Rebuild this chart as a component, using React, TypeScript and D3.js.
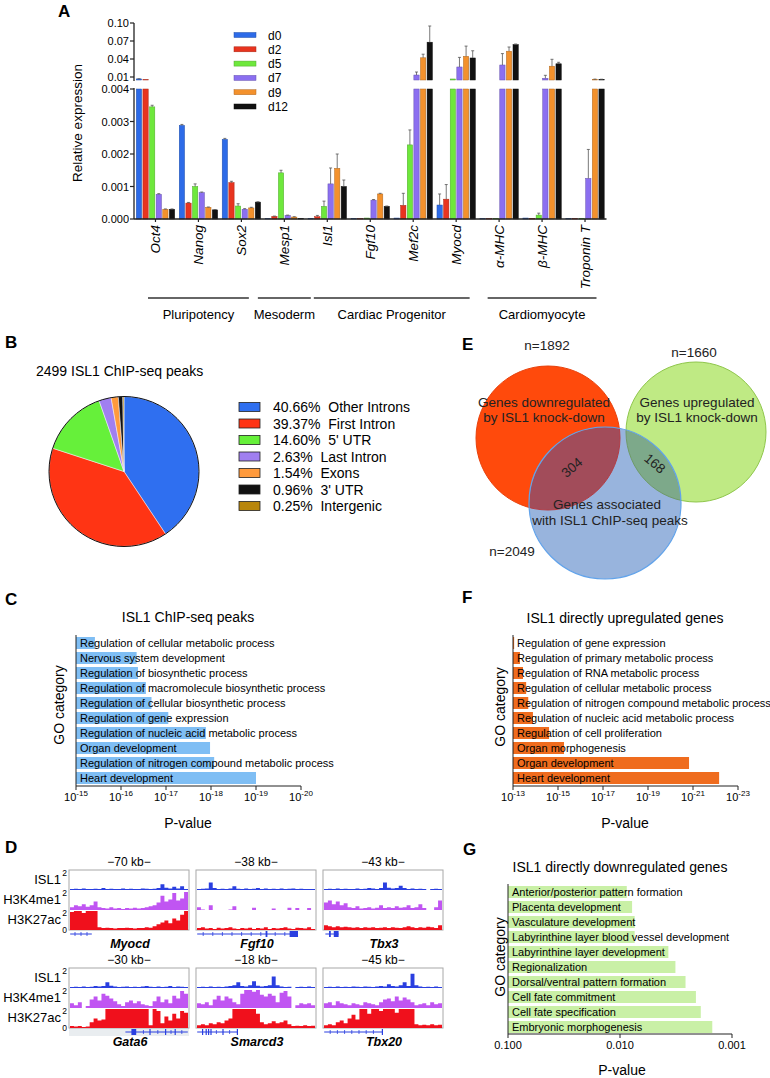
import React from 'react';
import * as d3 from 'd3';

const FONT = '"Liberation Sans", Arial, Helvetica, sans-serif';

// ---------------- Panel A data ----------------
const genes = ['Oct4', 'Nanog', 'Sox2', 'Mesp1', 'Isl1', 'Fgf10', 'Mef2c', 'Myocd', 'α-MHC', 'β-MHC', 'Troponin T'];
const days = ['d0', 'd2', 'd5', 'd7', 'd9', 'd12'];
const dayColors = ['#2d6be8', '#e8341f', '#6ee83c', '#8b6ff0', '#f3912c', '#111111'];
const exprD0 = [0.0068, 0.00288, 0.00245, 0.00001, 0.00002, 0.00001, 0.00003, 0.00043, 0.00001, 0.00003, 0.00001];
const exprD2 = [0.0055, 0.00049, 0.00112, 0.00008, 0.00007, 0.00001, 0.00042, 0.00061, 0.00001, 0.00002, 0.00001];
const exprD5 = [0.00345, 0.001, 0.0004, 0.00142, 0.00039, 0.00003, 0.00228, 0.0067, 0.00002, 0.00012, 0.00002];
const exprD7 = [0.00076, 0.00081, 0.0003, 0.00011, 0.00108, 0.00058, 0.0133, 0.0267, 0.03, 0.0078, 0.00125];
const exprD9 = [0.0003, 0.00036, 0.00034, 0.00006, 0.00156, 0.00077, 0.042, 0.0445, 0.053, 0.028, 0.006];
const exprD12 = [0.0003, 0.00028, 0.00052, 0.00002, 0.001, 0.00039, 0.068, 0.0417, 0.064, 0.032, 0.006];
const errD0 = [0.0003, 0.00003, 0.00003, 0, 0, 0, 0, 0.00034, 0, 0, 0];
const errD2 = [0, 0.00002, 0.00004, 0.00001, 0.00004, 0, 0.00037, 0.00045, 0, 0, 0];
const errD5 = [0.00005, 0.00008, 0.00007, 0.00008, 0.00016, 0, 0.00046, 0, 0, 0.00006, 0];
const errD7 = [0.00002, 0.00002, 0.00002, 0.00001, 0.00049, 0.00002, 0.005, 0.016, 0.019, 0.005, 0.00089];
const errD9 = [0.00001, 0.00001, 0.00002, 0.00001, 0.00044, 0.00002, 0.006, 0.017, 0.007, 0.0115, 0.0005];
const errD12 = [0.00001, 0.00001, 0.00001, 0, 0.0002, 0.00001, 0.027, 0.012, 0.001, 0.0025, 0.0003];
const lowerTicks = [0, 0.001, 0.002, 0.003, 0.004];
const upperTicks = [0.01, 0.04, 0.07, 0.1];
const geneGroups = [
  { label: 'Pluripotency', first: 'Oct4', last: 'Sox2', inset: 14 },
  { label: 'Mesoderm', first: 'Mesp1', last: 'Mesp1', inset: -5 },
  { label: 'Cardiac Progenitor', first: 'Isl1', last: 'Myocd', inset: 8 },
  { label: 'Cardiomyocyte', first: 'α-MHC', last: 'Troponin T', inset: 10 },
];

// ---------------- Panel B data ----------------
const pieLabels = ['Other Introns', 'First Intron', "5' UTR", 'Last Intron', 'Exons', "3' UTR", 'Intergenic'];
const piePercents = [40.66, 39.37, 14.6, 2.63, 1.54, 0.96, 0.25];
const pieColors = ['#2f6ff0', '#ff3414', '#66f03a', '#a07ff0', '#ff9a3c', '#111111', '#b8860b'];

// ---------------- Panel C data ----------------
const goCCategories = [
  'Regulation of cellular metabolic process', 'Nervous system development', 'Regulation of biosynthetic process',
  'Regulation of macromolecule biosynthetic process', 'Regulation of cellular biosynthetic process',
  'Regulation of gene expression', 'Regulation of nucleic acid metabolic process', 'Organ development',
  'Regulation of nitrogen compound metabolic process', 'Heart development',
];
const goCPValues = [3.8e-16, 4.5e-17, 4.2e-17, 2.8e-17, 2.1e-17, 8.9e-18, 1.3e-18, 1.05e-18, 8.5e-19, 1.0e-19];
const goCTicks = [1e-15, 1e-16, 1e-17, 1e-18, 1e-19, 1e-20];

// ---------------- Panel F data ----------------
const goFCategories = [
  'Regulation of gene expression', 'Regulation of primary metabolic process', 'Regulation of RNA metabolic process',
  'Regulation of cellular metabolic process', 'Regulation of nitrogen compound metabolic process',
  'Regulation of nucleic acid metabolic process', 'Regulation of cell proliferation', 'Organ morphogenesis',
  'Organ development', 'Heart development',
];
const goFPValues = [8.9e-14, 4.9e-14, 3.6e-14, 2.6e-14, 2.1e-14, 1.3e-14, 2.5e-15, 5.4e-16, 1.5e-21, 6.9e-23];
const goFTicks = [1e-13, 1e-15, 1e-17, 1e-19, 1e-21, 1e-23];

// ---------------- Panel G data ----------------
const goGCategories = [
  'Anterior/posterior pattern formation', 'Placenta development', 'Vasculature development',
  'Labyrinthine layer blood vessel development', 'Labyrinthine layer development', 'Regionalization',
  'Dorsal/ventral pattern formation', 'Cell fate commitment', 'Cell fate specification', 'Embryonic morphogenesis',
];
const goGPValues = [0.0087, 0.0078, 0.0074, 0.0074, 0.0037, 0.0032, 0.0026, 0.0021, 0.0019, 0.0015];
const goGTicks = [0.1, 0.01, 0.001];
const goGTickLabels = ['0.100', '0.010', '0.001'];

// ---------------- Panel E data ----------------
const vennNames = [['Genes downregulated', 'by ISL1 knock-down'], ['Genes upregulated', 'by ISL1 knock-down'], ['Genes associated', 'with ISL1 ChIP-seq peaks']];
const vennCounts = [1892, 1660, 2049];
const vennOverlaps = [304, 168];

// ---------------- Panel D data ----------------
const trackNames = ['ISL1', 'H3K4me1', 'H3K27ac'];
const trackColors = ['#2a3fe0', '#c055f2', '#f0101c'];
const topLoci = ['Myocd', 'Fgf10', 'Tbx3'];
const topScales = ['70 kb', '38 kb', '43 kb'];
const bottomLoci = ['Gata6', 'Smarcd3', 'Tbx20'];
const bottomScales = ['30 kb', '18 kb', '45 kb'];

const myocdISL1 = [0.1, 0.12, 0.1, 0.15, 0.1, 0.1, 0.12, 0.1, 0.2, 0.1, 0.12, 0.1, 0.1, 0.15, 0.1, 0.12, 0.1, 0.1, 0.15, 0.12, 0.1, 0.12, 0.2, 0.6, 0.25, 0.15, 0.35, 0.15, 0.4, 0.1];
const myocdK4 = [0.3, 0.5, 0.4, 0.6, 0.35, 0.5, 0.9, 0.3, 0.2, 0.15, 0.3, 0.15, 0.2, 0.1, 0.2, 0.15, 0.25, 0.15, 0.2, 0.3, 0.4, 0.5, 0.8, 1.5, 0.9, 1.1, 1.8, 1.0, 1.2, 1.9];
const myocdK27 = [1.9, 2, 2, 1.8, 2, 2, 2, 0.3, 0.2, 0.25, 0.2, 0.15, 0.2, 0.2, 0.25, 0.2, 0.15, 0.2, 0.2, 0.3, 0.25, 0.4, 0.6, 0.8, 1.0, 0.7, 1.2, 1.0, 1.6, 2];
const fgf10ISL1 = [0.1, 0.12, 0.15, 0.8, 0.2, 0.1, 0.12, 0.1, 0.15, 0.4, 0.12, 0.1, 0.15, 0.1, 0.12, 0.2, 0.1, 0.15, 0.1, 0.12, 0.1, 0.15, 0.1, 0.12, 0.15, 0.1, 0.12, 0.1, 0.1, 0.1];
const fgf10K4 = [0.3, 0.05, 0, 0.5, 0, 0, 0, 0, 0.05, 0.4, 0, 0, 0, 0, 0.25, 0, 0, 0, 0, 0.15, 0, 0, 0, 0.25, 0, 0.2, 0, 0, 0.2, 0];
const fgf10K27 = [0.2, 0.3, 0.15, 0.2, 0.1, 0.25, 0.15, 0.2, 0.3, 0.15, 0.1, 0.2, 0.15, 0.25, 0.1, 0.2, 0.15, 0.3, 0.1, 0.2, 0.15, 0.2, 0.3, 0.15, 0.1, 0.25, 0.2, 0.15, 0.3, 0.1];
const tbx3ISL1 = [0.1, 0.12, 0.1, 0.15, 0.1, 0.12, 0.1, 0.1, 0.15, 0.1, 0.12, 0.2, 0.15, 0.1, 0.2, 0.8, 0.25, 0.15, 0.2, 0.45, 0.2, 0.1, 0.15, 0.1, 0.12, 0.1, 0, 0.1, 0.12, 0.1];
const tbx3K4 = [0.8, 1.0, 0.6, 0.9, 0.5, 0.7, 0.3, 0.2, 0.4, 0.15, 0.2, 0.3, 0.15, 0.25, 0.5, 0.2, 0.3, 0.2, 0.4, 0.25, 0.3, 0.5, 0.2, 0.3, 0.6, 0.2, 0, 0, 0.3, 1.0];
const tbx3K27 = [0.5, 0.4, 0.3, 0.4, 0.3, 0.35, 0.3, 0.25, 0.3, 0.2, 0.3, 0.25, 0.3, 0.2, 0.25, 0.3, 0.2, 0.3, 0.25, 0.2, 0.3, 0.4, 0.3, 0.2, 0.3, 0.25, 0.35, 0.3, 0.2, 0.5];
const gata6ISL1 = [0.1, 0.12, 0.1, 0.15, 0.1, 0.12, 0.2, 0.15, 0.2, 0.6, 0.25, 0.15, 0.1, 0.12, 0.15, 0.1, 0.12, 0.1, 0.15, 0.2, 0.12, 0.1, 0.15, 0.1, 0.12, 0.2, 0.1, 0.15, 0.12, 0.1];
const gata6K4 = [0.5, 0.3, 0.6, 0, 0.2, 0.9, 1.2, 0.8, 1.5, 1.3, 1.0, 0.7, 0.4, 0.2, 0.6, 0.8, 0.5, 0.7, 0.4, 0.3, 0.2, 0.7, 1.2, 0.6, 0.9, 0.5, 1.3, 1.0, 1.8, 1.5];
const gata6K27 = [0.2, 0.15, 0.2, 0.1, 0.15, 0.6, 1.0, 0.8, 0.9, 2, 2, 2, 2, 2, 2, 2, 2, 2, 2, 2, 0.3, 2, 1.8, 0.5, 1.2, 0.8, 1.5, 1.0, 1.8, 1.6];
const smarcd3ISL1 = [0.1, 0.12, 0.1, 0.15, 0.1, 0.12, 0.1, 0.15, 0.2, 0.3, 0.6, 0.2, 0.15, 0.3, 0.7, 0.25, 0.15, 0.2, 0.3, 1.2, 0.3, 0.15, 0.1, 0.12, 0, 0.1, 0.12, 0.1, 0.15, 0.1];
const smarcd3K4 = [0.5, 0.4, 0.6, 0.3, 0.9, 1.3, 0.8, 1.2, 1.0, 0.6, 0.4, 1.5, 1.9, 1.9, 1.7, 1.9, 1.4, 1.2, 1.5, 1.3, 0.6, 1.6, 1.8, 1.2, 0, 0.3, 0.5, 0.4, 0.5, 0.3];
const smarcd3K27 = [0.3, 0.4, 0.3, 0.5, 0.4, 0.6, 0.5, 0.8, 1.0, 2, 2, 2, 2, 2, 2, 1.5, 0.6, 0.4, 0.5, 0.7, 0.5, 0.6, 0.8, 0.4, 0.2, 0.25, 0.2, 0.3, 0.2, 0.25];
const tbx20ISL1 = [0.1, 0.12, 0.1, 0.15, 0.1, 0.12, 0.1, 0.15, 0.12, 0.1, 0.15, 0.12, 0.1, 0.15, 0.2, 0.15, 0.4, 0.2, 0.15, 0.3, 0.6, 0.2, 1.5, 0.3, 0.15, 0.1, 0.12, 0.1, 0.15, 0.1];
const tbx20K4 = [0.5, 0.6, 0.3, 0.7, 0.5, 0.4, 0.3, 0.5, 0.4, 0.3, 0.6, 0.5, 0.4, 0.3, 0.6, 0.9, 1.0, 0.7, 1.2, 0.8, 1.1, 0.9, 0.6, 0.3, 0.4, 0.5, 0.3, 0.6, 0.4, 0.5];
const tbx20K27 = [0.3, 0.4, 0.3, 0.6, 0.8, 0.5, 1.0, 1.4, 0.9, 2, 2, 1.5, 2, 2, 1.8, 2, 2, 2, 1.6, 2, 2, 2, 2, 0.4, 0.3, 0.35, 0.3, 0.4, 0.3, 0.35];

// gene models: line extent and exon blocks, as fractions of the locus window
const geneModels: Record<string, { line: [number, number]; exons: [number, number][]; marks: number[]; shade?: boolean }> = {
  Myocd: { line: [0.01, 0.19], exons: [], marks: [0.05, 0.1, 0.15] },
  Fgf10: { line: [0.01, 0.85], exons: [[0.58, 0.595], [0.78, 0.85]], marks: [0.06, 0.14, 0.22, 0.3, 0.38, 0.46, 0.54, 0.66, 0.74] },
  Tbx3: { line: [0.02, 0.13], exons: [[0.05, 0.065], [0.09, 0.13]], marks: [] },
  Gata6: { line: [0.47, 0.99], exons: [[0.52, 0.56], [0.67, 0.68], [0.8, 0.81], [0.88, 0.89]], marks: [0.62, 0.74, 0.85, 0.94], shade: true },
  Smarcd3: { line: [0.01, 0.35], exons: [[0.05, 0.06], [0.08, 0.09], [0.1, 0.11], [0.12, 0.13], [0.22, 0.23], [0.34, 0.35]], marks: [0.17, 0.28] },
  Tbx20: { line: [0.01, 0.5], exons: [[0.49, 0.5]], marks: [0.06, 0.12, 0.18, 0.24, 0.3, 0.36, 0.42] },
};
const trackData: Record<string, number[][]> = {
  Myocd: [myocdISL1, myocdK4, myocdK27],
  Fgf10: [fgf10ISL1, fgf10K4, fgf10K27],
  Tbx3: [tbx3ISL1, tbx3K4, tbx3K27],
  Gata6: [gata6ISL1, gata6K4, gata6K27],
  Smarcd3: [smarcd3ISL1, smarcd3K4, smarcd3K27],
  Tbx20: [tbx20ISL1, tbx20K4, tbx20K27],
};

// ---------------- Components ----------------
function PanelLabel({ x, y, t }: { x: number; y: number; t: string }) {
  return <text x={x} y={y} fontSize={17} fontWeight="bold">{t}</text>;
}

function PanelA() {
  const xA = d3.scaleBand<string>().domain(genes).range([134, 606.5]);
  const bw = xA.bandwidth();
  const xDay = d3.scaleBand<string>().domain(days).range([2.3, bw - 2.3]).paddingInner(0.2);
  const yLow = d3.scaleLinear().domain([0, 0.004]).range([219, 89]);
  const yHigh = d3.scaleLinear().domain([0.005, 0.1]).range([80, 23]);
  const series = [exprD0, exprD2, exprD5, exprD7, exprD9, exprD12];
  const errs = [errD0, errD2, errD5, errD7, errD9, errD12];
  const axisX = 134;
  const bars: React.ReactNode[] = [];
  const errorBars: React.ReactNode[] = [];
  series.forEach((vals, di) => {
    const col = dayColors[di];
    const stroke = d3.color(col)!.darker(0.9).toString();
    vals.forEach((v, gi) => {
      const x = xA(genes[gi])! + xDay(days[di])!;
      const w = xDay.bandwidth();
      const top = yLow(Math.min(v, 0.004));
      bars.push(<rect key={`l${di}-${gi}`} x={x} y={top} width={w} height={219 - top} fill={col} stroke={stroke} strokeWidth={0.5} />);
      if (v > 0.005) {
        const t2 = yHigh(v);
        bars.push(<rect key={`u${di}-${gi}`} x={x} y={t2} width={w} height={80 - t2} fill={col} stroke={stroke} strokeWidth={0.5} />);
      }
      const e = errs[di][gi];
      if (e > 0) {
        const cx = x + w / 2;
        let y1: number | null = null, y2: number | null = null;
        if (v + e <= 0.004) { y1 = yLow(v); y2 = yLow(v + e); }
        else if (v > 0.005) { y1 = yHigh(v); y2 = yHigh(v + e); }
        if (y1 !== null && y2 !== null) {
          errorBars.push(
            <g key={`e${di}-${gi}`} stroke="#555" strokeWidth={0.8}>
              <line x1={cx} x2={cx} y1={y1} y2={y2} />
              <line x1={cx - 1.5} x2={cx + 1.5} y1={y2} y2={y2} />
            </g>
          );
        }
      }
    });
  });
  return (
    <g>
      <PanelLabel x={58} y={17} t="A" />
      {bars}
      {errorBars}
      <line x1={axisX} x2={axisX} y1={yHigh(0.1)} y2={81} stroke="#222" strokeWidth={1.3} />
      <line x1={axisX} x2={axisX} y1={88} y2={219} stroke="#222" strokeWidth={1.3} />
      <line x1={axisX} x2={606.5} y1={219} y2={219} stroke="#222" strokeWidth={1.3} />
      {upperTicks.map((t) => (
        <g key={t}>
          <line x1={axisX - 4} x2={axisX} y1={yHigh(t)} y2={yHigh(t)} stroke="#222" strokeWidth={1.2} />
          <text x={axisX - 5} y={yHigh(t) + 4} textAnchor="end" fontSize={11}>{d3.format('.2f')(t)}</text>
        </g>
      ))}
      {lowerTicks.map((t) => (
        <g key={t}>
          <line x1={axisX - 4} x2={axisX} y1={yLow(t)} y2={yLow(t)} stroke="#222" strokeWidth={1.2} />
          <text x={axisX - 5} y={yLow(t) + 4} textAnchor="end" fontSize={11}>{d3.format('.3f')(t)}</text>
        </g>
      ))}
      <text transform="translate(82,123) rotate(-90)" textAnchor="middle" fontSize={13.5}>Relative expression</text>
      {genes.map((g) => {
        const cx = xA(g)! + bw / 2;
        return (
          <g key={g}>
            <line x1={cx} x2={cx} y1={219} y2={222} stroke="#222" strokeWidth={1.2} />
            <text transform={`translate(${cx + 4.8},225) rotate(-90)`} textAnchor="end" fontSize={13.5} fontStyle="italic">{g}</text>
          </g>
        );
      })}
      {geneGroups.map((gr) => {
        const xs = xA(gr.first)! + gr.inset;
        const xe = xA(gr.last)! + bw - gr.inset;
        return (
          <g key={gr.label}>
            <line x1={xs} x2={xe} y1={298} y2={298} stroke="#333" strokeWidth={1.5} />
            <text x={(xs + xe) / 2} y={318.5} textAnchor="middle" fontSize={13}>{gr.label}</text>
          </g>
        );
      })}
      {days.map((d, i) => (
        <g key={d}>
          <rect x={234} y={32.5 + i * 14.3} width={22} height={5} fill={dayColors[i]} stroke={d3.color(dayColors[i])!.darker(0.9).toString()} strokeWidth={0.5} />
          <text x={268} y={39.5 + i * 14.3} fontSize={12}>{d}</text>
        </g>
      ))}
    </g>
  );
}

function PanelB() {
  const cx = 124, cy = 471.5, r = 75;
  const pie = d3.pie<number>().sort(null).value((d) => d)(piePercents);
  const arc = d3.arc<d3.PieArcDatum<number>>().innerRadius(0).outerRadius(r);
  return (
    <g>
      <PanelLabel x={5} y={348} t="B" />
      <text x={36} y={376} fontSize={14}>2499 ISL1 ChIP-seq peaks</text>
      <g transform={`translate(${cx},${cy})`}>
        {pie.map((p, i) => (
          <path key={i} d={arc(p)!} fill={pieColors[i]} stroke="#f4f4ff" strokeWidth={0.5} />
        ))}
        <circle r={r} fill="none" stroke="#111" strokeWidth={1} />
      </g>
      {pieLabels.map((l, i) => (
        <g key={l}>
          <rect x={239} y={402.5 + i * 16.5} width={21} height={9} fill={pieColors[i]} stroke="#222" strokeWidth={0.8} />
          <text x={273} y={412 + i * 16.5} fontSize={14} style={{ whiteSpace: 'pre' }}>{`${piePercents[i].toFixed(2)}%  ${l}`}</text>
        </g>
      ))}
    </g>
  );
}

function GOChart(props: {
  cats: string[]; pvals: number[]; domain: [number, number]; range: [number, number]; ticks: number[];
  tickLabel: (t: number, i: number) => React.ReactNode; color: string; rowY0: number; axisY: number;
  title: string; titleX: number; titleY: number; goX: number; goY: number; pX: number; pY: number;
}) {
  const { cats, pvals, domain, range, ticks, tickLabel, color, rowY0, axisY } = props;
  const x = d3.scaleLog().domain(domain).range(range);
  const y = d3.scaleBand<string>().domain(cats).range([rowY0 - 7.5, rowY0 - 7.5 + 15 * cats.length]).paddingInner(0.2).paddingOuter(0.1);
  return (
    <g>
      <text x={props.titleX} y={props.titleY} textAnchor="middle" fontSize={14}>{props.title}</text>
      {cats.map((c, i) => (
        <g key={c}>
          <rect x={range[0]} y={y(c)!} width={x(pvals[i]) - range[0]} height={y.bandwidth()} fill={color} />
          <text x={range[0] + 4} y={y(c)! + y.bandwidth() / 2 + 4} fontSize={11}>{c}</text>
        </g>
      ))}
      <line x1={range[0]} x2={range[0]} y1={rowY0 - 8} y2={axisY} stroke="#222" strokeWidth={1} />
      <line x1={range[0]} x2={range[1]} y1={axisY} y2={axisY} stroke="#222" strokeWidth={1} />
      {ticks.map((t, i) => (
        <g key={i}>
          <line x1={x(t)} x2={x(t)} y1={axisY} y2={axisY + 4} stroke="#222" strokeWidth={1} />
          <text x={x(t)} y={axisY + 15} textAnchor="middle" fontSize={11}>{tickLabel(t, i)}</text>
        </g>
      ))}
      <text transform={`translate(${props.goX},${props.goY}) rotate(-90)`} textAnchor="middle" fontSize={14}>GO category</text>
      <text x={props.pX} y={props.pY} textAnchor="middle" fontSize={14}>P-value</text>
    </g>
  );
}

const powLabel = (t: number) => (
  <>10<tspan dy={-5} fontSize={8}>{String(Math.round(Math.log10(t)))}</tspan></>
);

function PanelC() {
  return (
    <g>
      <PanelLabel x={5} y={605} t="C" />
      <GOChart cats={goCCategories} pvals={goCPValues} domain={[1e-15, 1e-20]} range={[76, 301]} ticks={goCTicks}
        tickLabel={(t) => powLabel(t)} color="#7fbef4" rowY0={643} axisY={786}
        title="ISL1 ChIP-seq peaks" titleX={188} titleY={622} goX={64} goY={705} pX={188} pY={828} />
    </g>
  );
}

function PanelF() {
  return (
    <g>
      <PanelLabel x={462} y={603} t="F" />
      <GOChart cats={goFCategories} pvals={goFPValues} domain={[1e-13, 1e-23]} range={[513, 738]} ticks={goFTicks}
        tickLabel={(t) => powLabel(t)} color="#ef6c1e" rowY0={643} axisY={786}
        title="ISL1 directly upregulated genes" titleX={625} titleY={623} goX={505} goY={707} pX={625} pY={828} />
    </g>
  );
}

function PanelG() {
  return (
    <g>
      <PanelLabel x={463} y={855} t="G" />
      <GOChart cats={goGCategories} pvals={goGPValues} domain={[0.1, 0.001]} range={[508, 732]} ticks={goGTicks}
        tickLabel={(t, i) => goGTickLabels[i]} color="#c9f0a6" rowY0={892} axisY={1034}
        title="ISL1 directly downregulated genes" titleX={620} titleY={872} goX={505} goY={957} pX={622} pY={1075} />
    </g>
  );
}

function PanelE() {
  const red = { cx: 548, cy: 438, r: 72 };
  const green = { cx: 696, cy: 432, r: 70 };
  const blue = { cx: 605, cy: 503, r: 76 };
  const fs = 13.5;
  return (
    <g>
      <PanelLabel x={462} y={350} t="E" />
      <defs>
        <clipPath id="clipBlue"><circle cx={blue.cx} cy={blue.cy} r={blue.r} /></clipPath>
      </defs>
      <circle cx={red.cx} cy={red.cy} r={red.r} fill="#ff4a0c" stroke="#e8400a" strokeWidth={1} />
      <circle cx={green.cx} cy={green.cy} r={green.r} fill="#bfea84" stroke="#8fc64c" strokeWidth={1} />
      <circle cx={blue.cx} cy={blue.cy} r={blue.r} fill="#98b4dd" />
      <g clipPath="url(#clipBlue)">
        <circle cx={red.cx} cy={red.cy} r={red.r} fill="#a24c5a" stroke="#b23d45" strokeWidth={1} />
        <circle cx={green.cx} cy={green.cy} r={green.r} fill="#7da98a" stroke="#6f9a6a" strokeWidth={1} />
      </g>
      <circle cx={blue.cx} cy={blue.cy} r={blue.r} fill="none" stroke="#62a3ea" strokeWidth={1.2} />
      <g fontSize={fs} fill="#222" textAnchor="middle">
        <text x={544} y={407}>{vennNames[0][0]}</text>
        <text x={544} y={422}>{vennNames[0][1]}</text>
        <text x={697} y={407}>{vennNames[1][0]}</text>
        <text x={697} y={422}>{vennNames[1][1]}</text>
        <text x={607} y={509}>{vennNames[2][0]}</text>
        <text x={610} y={525}>{vennNames[2][1]}</text>
        <text transform="translate(575,471) rotate(-40)">{vennOverlaps[0]}</text>
        <text transform="translate(652,467) rotate(40)">{vennOverlaps[1]}</text>
        <text x={547} y={350}>{`n=${vennCounts[0]}`}</text>
        <text x={694} y={357}>{`n=${vennCounts[1]}`}</text>
        <text x={512} y={556}>{`n=${vennCounts[2]}`}</text>
      </g>
    </g>
  );
}

function LocusRow({ loci, scales, top }: { loci: string[]; scales: string[]; top: number }) {
  const xb = d3.scaleBand<string>().domain(loci).range([69, 443]).paddingInner(0.055);
  const trackH = 20;
  return (
    <g>
      {trackNames.map((t, ti) => (
        <text key={t} x={61} y={top + ti * trackH + 14} textAnchor="end" fontSize={13}>{t}</text>
      ))}
      {trackNames.map((t, ti) => (
        <text key={t + 's'} x={67} y={top + ti * trackH + 6} textAnchor="end" fontSize={8.5}>2</text>
      ))}
      <text x={67} y={top + 3 * trackH + 3} textAnchor="end" fontSize={8.5}>0</text>
      {loci.map((locus, li) => {
        const x0 = xb(locus)!;
        const w = xb.bandwidth();
        const tracks = trackData[locus];
        const model = geneModels[locus];
        const gx = d3.scaleLinear().domain([0, 1]).range([x0, x0 + w]);
        const gy = top + 3 * trackH + 4;
        return (
          <g key={locus}>
            {model.shade && <rect x={x0} y={top + 3 * trackH} width={w} height={8} fill="#e9edf0" />}
            <rect x={x0} y={top} width={w} height={3 * trackH} fill="#fff" stroke="#a8a8a8" strokeWidth={1} />
            {tracks.map((vals, ti) => {
              const xs = d3.scaleLinear().domain([0, vals.length]).range([x0 + 1, x0 + w - 1]);
              const base = top + (ti + 1) * trackH;
              const ys = d3.scaleLinear().domain([0, 2]).range([base, base - trackH + 1]).clamp(true);
              const pts = vals.map((v, i) => [i, v] as [number, number]).concat([[vals.length, vals[vals.length - 1]]]);
              const area = d3.area<[number, number]>().x((d) => xs(d[0])).y0(base).y1((d) => ys(d[1])).curve(d3.curveStepAfter);
              return <path key={ti} d={area(pts)!} fill={trackColors[ti]} />;
            })}
            <text x={x0 + w / 2} y={top - 4} textAnchor="middle" fontSize={12}>{`\u2212${scales[li]}\u2212`}</text>
            <g stroke="#2a3fe0" fill="#2a3fe0">
              <line x1={gx(model.line[0])} x2={gx(model.line[1])} y1={gy} y2={gy} strokeWidth={1} />
              {model.exons.map((e, k) => (
                <rect key={k} x={gx(e[0])} y={gy - 3} width={Math.max(1, gx(e[1]) - gx(e[0]))} height={6} strokeWidth={0} />
              ))}
              {model.marks.map((m, k) => (
                <line key={k} x1={gx(m)} x2={gx(m)} y1={gy - 2} y2={gy + 2} strokeWidth={0.8} />
              ))}
            </g>
            <text x={x0 + w / 2 + 1} y={gy + 14} textAnchor="middle" fontSize={12.5} fontStyle="italic" fontWeight="bold">{locus}</text>
          </g>
        );
      })}
    </g>
  );
}

function PanelD() {
  return (
    <g>
      <PanelLabel x={5} y={853} t="D" />
      <LocusRow loci={topLoci} scales={topScales} top={870} />
      <LocusRow loci={bottomLoci} scales={bottomScales} top={968} />
    </g>
  );
}

export default function App() {
  return (
    <svg width={770} height={1078} viewBox="0 0 770 1078" style={{ position: 'absolute', left: 0, top: 0, background: '#fff' }} fontFamily={FONT}>
      <rect width={770} height={1078} fill="#fff" />
      <PanelA />
      <PanelB />
      <PanelC />
      <PanelD />
      <PanelE />
      <PanelF />
      <PanelG />
    </svg>
  );
}
